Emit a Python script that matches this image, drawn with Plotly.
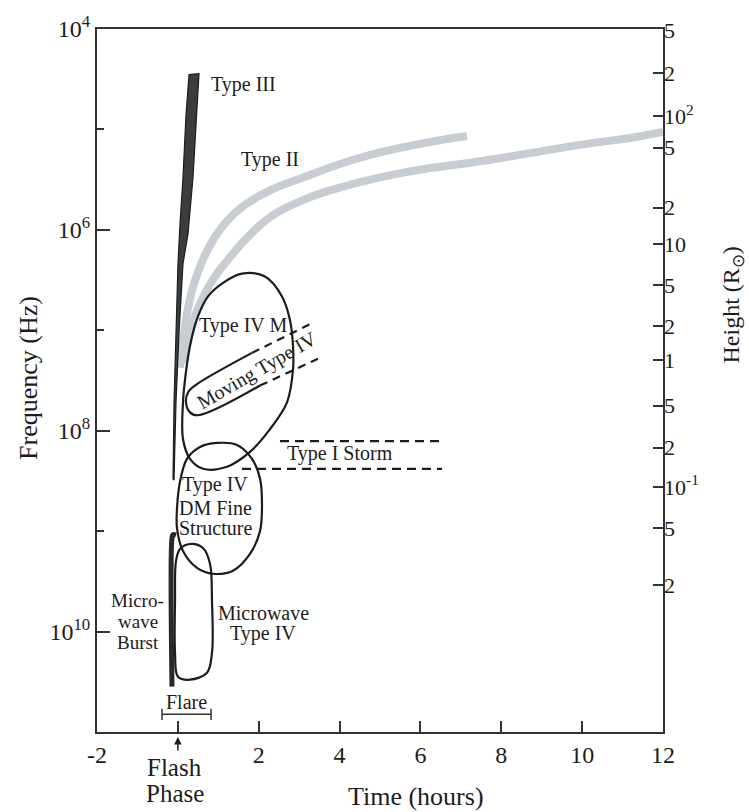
import plotly.graph_objects as go

# ---------------- axis ticks ----------------
x_tickvals = [-2, 0, 2, 4, 6, 8, 10, 12]
x_ticktext = ["-2", "", "2", "4", "6", "8", "10", "12"]
freq_major_exp = [4, 6, 8, 10]
freq_minor_exp = [5, 7, 9]
height_labels = ["5", "2", "10<sup>2</sup>", "5", "2", "10", "5", "2", "1",
                 "5", "2", "10<sup>-1</sup>", "5", "2"]
height_logfreq = [4.01, 4.44, 4.87, 5.18, 5.78, 6.14, 6.55, 6.96, 7.30,
                  7.75, 8.17, 8.56, 8.97, 9.54]

# ---------------- burst outlines (time in hours, log10 frequency) ----------------
type3_t = [-0.12, -0.095, -0.046, 0.003, 0.053, 0.127, 0.201, 0.276, 0.523,
           0.473, 0.374, 0.251, 0.127, 0.028, -0.046, -0.095, -0.12]
type3_lf = [8.487, 7.718, 7.028, 6.337, 5.943, 5.479, 4.858, 4.454, 4.444,
            4.828, 5.479, 6.041, 6.337, 7.028, 7.718, 8.487, 8.487]

type2a_t = [0.053, 0.152, 0.251, 0.399, 0.597, 0.844, 1.191, 1.611, 2.279,
            3.095, 4.505, 5.989, 7.152]
type2a_lf = [7.373, 7.028, 6.781, 6.535, 6.318, 6.120, 5.923, 5.765, 5.607,
             5.479, 5.282, 5.144, 5.065]
type2b_t = [0.102, 0.251, 0.449, 0.696, 0.968, 1.240, 1.661, 2.279, 3.021,
            3.689, 5.321, 7.720, 9.947, 11.183, 12.0]
type2b_lf = [7.323, 7.077, 6.830, 6.613, 6.436, 6.298, 6.100, 5.874, 5.716,
             5.617, 5.450, 5.302, 5.154, 5.085, 5.026]

type4m_t = [1.586, 2.155, 2.576, 2.774, 2.848, 2.848, 2.700, 2.279, 1.784, 1.215,
            0.622, 0.300, 0.127, 0.127, 0.177, 0.300, 0.499, 0.746, 1.092, 1.586]
type4m_lf = [6.436, 6.465, 6.663, 6.899, 7.156, 7.393, 7.718, 7.984, 8.211, 8.359,
             8.379, 8.280, 8.083, 7.718, 7.491, 7.156, 6.860, 6.663, 6.535, 6.436]

dm_t = [0.968, 1.463, 1.834, 2.032, 2.081, 2.032, 1.784, 1.364, 0.869, 0.473,
        0.127, -0.021, -0.021, 0.053, 0.226, 0.548, 0.968]
dm_lf = [8.122, 8.142, 8.280, 8.477, 8.734, 9.000, 9.227, 9.394, 9.424, 9.365,
         9.197, 8.970, 8.773, 8.507, 8.280, 8.162, 8.122]

mw4_t = [0.300, 0.622, 0.795, 0.844, 0.844, 0.721, 0.300, 0.003, -0.070, -0.070,
         -0.046, 0.053, 0.300]
mw4_lf = [9.128, 9.168, 9.325, 9.690, 10.213, 10.410, 10.479, 10.450, 10.213, 9.690,
          9.296, 9.178, 9.128]

mwburst_t = [-0.045, -0.12, -0.145, -0.145]
mwburst_lf = [9.040, 9.035, 9.070, 10.548]

moving_solid_t = [1.834, 0.424, 0.251, 0.201, 0.300, 0.499, 2.032]
moving_solid_lf = [7.225, 7.550, 7.619, 7.718, 7.817, 7.846, 7.550]
moving_dash_upper_t = [1.834, 3.268]
moving_dash_upper_lf = [7.225, 6.939]
moving_dash_lower_t = [2.032, 3.466]
moving_dash_lower_lf = [7.550, 7.284]

storm_upper_t = [2.526, 6.533]
storm_upper_lf = [8.103, 8.103]
storm_lower_t = [1.586, 6.533]
storm_lower_lf = [8.379, 8.379]

flare_t = [-0.392, 0.820]
flare_lf = [10.824, 10.824]

# ---------------- labels (time, log10 frequency, angle, size) ----------------
labels = [
    ("Type III", 1.623, 4.552, 0, 20),
    ("Type II", 2.279, 5.302, 0, 20),
    ("Type IV M", 1.611, 6.949, 0, 20),
    ("Moving Type IV", 1.957, 7.402, -30, 20),
    ("Type I Storm", 4.010, 8.231, 0, 20),
    ("Type IV", 0.919, 8.536, 0, 20),
    ("DM Fine", 0.919, 8.773, 0, 20),
    ("Structure", 0.919, 8.970, 0, 20),
    ("Micro-", -0.986, 9.690, 0, 19),
    ("wave", -0.986, 9.897, 0, 19),
    ("Burst", -0.986, 10.105, 0, 19),
    ("Microwave", 2.106, 9.819, 0, 20),
    ("Type IV", 2.106, 10.016, 0, 20),
    ("Flare", 0.214, 10.706, 0, 20),
]

FONT = "Liberation Serif"
INK = "#1c1c1c"
AXC = "#333333"


def ys(lf):
    return [10 ** v for v in lf]


fig = go.Figure()


def add_line(t, lf, width=2.2, color=INK, dash="solid", spline=True, fill=None, fillcolor=None,
             smoothing=1.0):
    fig.add_trace(go.Scatter(
        x=t, y=ys(lf), mode="lines",
        line=dict(color=color, width=width, dash=dash, shape="spline" if spline else "linear",
                  smoothing=smoothing),
        fill=fill, fillcolor=fillcolor,
        hoverinfo="skip", showlegend=False))


# Type II (grey bands)
add_line(type2a_t, type2a_lf, width=8, color="#c8cdd4", smoothing=1.3)
add_line(type2b_t, type2b_lf, width=8, color="#c8cdd4", smoothing=1.3)
# Type III (filled dark)
add_line(type3_t, type3_lf, width=1.2, color=INK, spline=False, fill="toself", fillcolor="#3a3d40")
# Type IV M
add_line(type4m_t, type4m_lf)
# DM fine structure
add_line(dm_t, dm_lf)
# Microwave Type IV
add_line(mw4_t, mw4_lf)
# Microwave burst
add_line(mwburst_t, mwburst_lf, width=5, color="#2a2a2a")
# Moving Type IV
add_line(moving_solid_t, moving_solid_lf)
add_line(moving_dash_upper_t, moving_dash_upper_lf, dash="8px,6px", spline=False)
add_line(moving_dash_lower_t, moving_dash_lower_lf, dash="8px,6px", spline=False)
# Type I storm
add_line(storm_upper_t, storm_upper_lf, dash="9px,6px", spline=False)
add_line(storm_lower_t, storm_lower_lf, dash="9px,6px", spline=False)
# Flare bracket
fig.add_trace(go.Scatter(
    x=flare_t, y=ys(flare_lf), mode="lines+markers",
    line=dict(color=AXC, width=1.5),
    marker=dict(symbol="line-ns", size=8, line=dict(width=1.5, color=AXC)),
    hoverinfo="skip", showlegend=False))

# invisible trace for right axis
fig.add_trace(go.Scatter(x=[0], y=[1e6], yaxis="y2", mode="markers",
                         marker=dict(opacity=0), hoverinfo="skip", showlegend=False))

annotations = []
for txt, t, lf, ang, sz in labels:
    annotations.append(dict(text=txt, x=t, y=lf, xref="x", yref="y", showarrow=False,
                            xanchor="center", yanchor="middle",
                            textangle=ang, font=dict(family=FONT, size=sz, color=INK)))


def paper_text(txt, x, y, size, angle=0):
    return dict(text=txt, xref="paper", yref="paper", x=x, y=y, xanchor="center",
                yanchor="middle", textangle=angle, showarrow=False,
                font=dict(family=FONT, size=size, color=INK))


annotations += [
    paper_text("Frequency (Hz)", -0.122, 0.5035, 26, -90),
    paper_text("Height (R<sub>⊙</sub>)", 1.124, 0.607, 24, -90),
    paper_text("Time (hours)", 0.564, -0.092, 26),
    paper_text("Flash", 0.137, -0.0508, 25),
    paper_text("Phase", 0.137, -0.0874, 25),
    dict(text="", x=0, xref="x", y=-0.007, yref="paper", showarrow=True,
         ax=0, ay=15, arrowhead=2, arrowsize=1, arrowwidth=1.5, arrowcolor=INK),
]

fig.update_layout(
    width=749, height=812,
    margin=dict(l=97, r=86, t=23, b=80),
    paper_bgcolor="white", plot_bgcolor="white",
    font=dict(family=FONT, color=INK),
    showlegend=False,
    annotations=annotations,
    xaxis=dict(range=[-2, 12], showgrid=False, zeroline=False,
               showline=True, linecolor=AXC, linewidth=2, mirror=True,
               ticks="inside", ticklen=11, tickwidth=1.5, tickcolor=AXC,
               tickvals=x_tickvals, ticktext=x_ticktext,
               tickfont=dict(family=FONT, size=24, color=INK)),
    yaxis=dict(type="log", range=[11, 4], showgrid=False, zeroline=False,
               showline=True, linecolor=AXC, linewidth=2, mirror=True,
               ticks="inside", ticklen=13, tickwidth=1.5, tickcolor=AXC,
               tickvals=[10 ** e for e in freq_major_exp],
               ticktext=["10<sup>%d</sup>" % e for e in freq_major_exp],
               tickfont=dict(family=FONT, size=24, color=INK),
               minor=dict(tickvals=[10 ** e for e in freq_minor_exp], ticks="inside",
                          ticklen=7, tickwidth=1.5, tickcolor=AXC, showgrid=False)),
    yaxis2=dict(type="log", range=[11, 4], overlaying="y", side="right",
                showgrid=False, zeroline=False, showline=False,
                ticks="inside", ticklen=10, tickwidth=1.5, tickcolor=AXC,
                tickvals=[10 ** v for v in height_logfreq], ticktext=height_labels,
                tickfont=dict(family=FONT, size=22, color=INK)),
)

fig.write_html("out.html")
